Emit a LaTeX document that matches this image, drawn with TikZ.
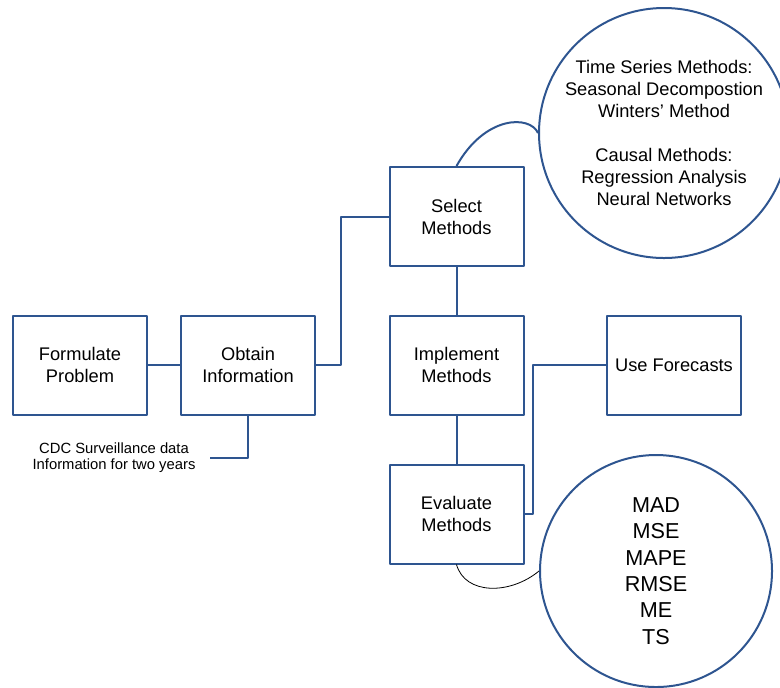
\documentclass[tikz,border=0pt]{standalone}
\usepackage{fontspec}
\setmainfont{Liberation Sans}
\begin{document}
\begin{tikzpicture}[x=0.75pt,y=-0.75pt,line join=round,
  stage/.style={draw=flowblue,line width=1.5pt,minimum width=100.5pt,minimum height=74.25pt,align=center,inner sep=0pt,font=\fontsize{13.7}{16.5}\selectfont},
  bubble/.style={circle,draw=flowblue,line width=1.5pt,inner sep=0pt,align=center},
  link/.style={draw=flowblue,line width=1.5pt}]
\definecolor{flowblue}{HTML}{2E5590}
\useasboundingbox (0,0) rectangle (780,687);
\clip (0,0) rectangle (780,687);
% process boxes
\node[stage] (formulate) at (80,365) {Formulate\\Problem};
\node[stage] (obtain) at (248,365) {Obtain\\Information};
\node[stage] (select) at (456.5,216.5) {Select\\Methods};
\node[stage] (implement) at (456.5,365) {Implement\\Methods};
\node[stage] (evaluate) at (456.5,514) {Evaluate\\Methods};
\node[stage] (use) at (674,365) {Use Forecasts};
% callouts
\node[bubble,minimum size=187.5pt,font=\fontsize{13.7}{16.5}\selectfont] (approaches) at (664,133) {Time Series Methods:\\Seasonal Decompostion\\Winters' Method\\[16.5pt]Causal Methods:\\Regression Analysis\\Neural Networks};
\node[bubble,minimum size=174pt,font=\fontsize{16.2}{19.7}\selectfont] (measures) at (656,571) {MAD\\MSE\\MAPE\\RMSE\\ME\\TS};
\node[font=\fontsize{11.1}{12.5}\selectfont,align=center] (cdc) at (114,457.5) {CDC Surveillance data\\Information for two years};
\coordinate (cdcend) at (210,458);
% connectors
\draw[link] (formulate) -- (obtain);
\draw[link] (obtain.east) -- ++(25,0) |- (select.west);
\draw[link] (obtain.south) |- (cdcend);
\draw[link] (select) -- (implement);
\draw[link] (implement) -- (evaluate);
\draw[link] (evaluate.east) -- ++(8,0) |- (use.west);
\draw[link] (select.north) .. controls (485,115) and (530,115) .. (approaches.west);
\draw[black,line width=.6pt] (evaluate.south) .. controls (465,595) and (510,595) .. (measures.west);
\end{tikzpicture}
\end{document}
